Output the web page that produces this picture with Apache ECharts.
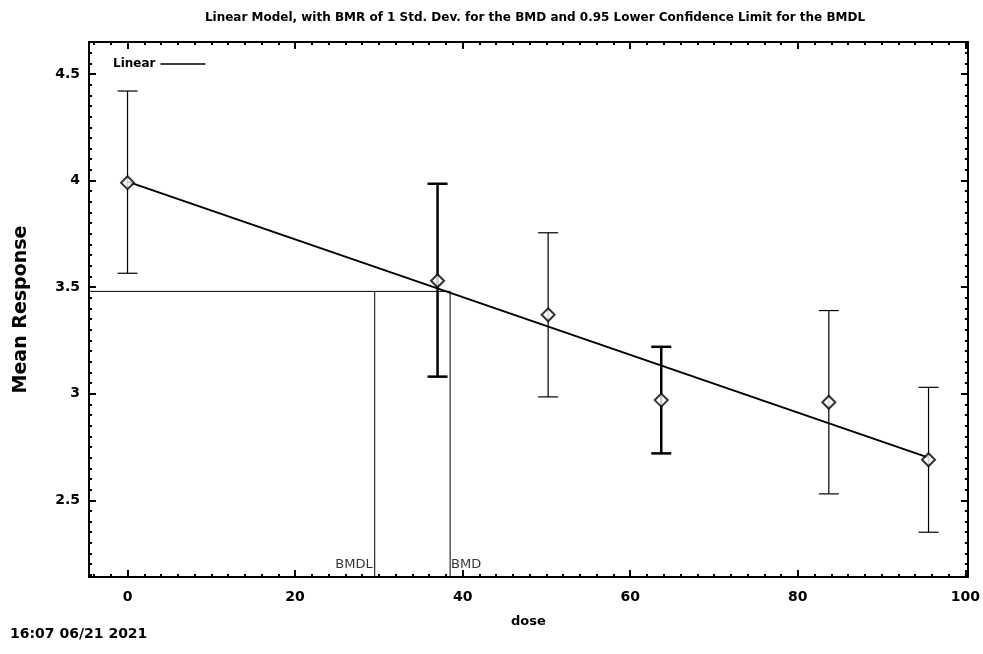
<!DOCTYPE html>
<html>
<head>
<meta charset="utf-8">
<script src="https://cdn.jsdelivr.net/npm/echarts@6/dist/echarts.min.js"></script>
<style>
  html, body { margin: 0; padding: 0; background: #fff; }
  #chart { width: 983px; height: 654px; }
</style>
</head>
<body>
<div id="chart"></div>
<script>
// dose groups and observed means with error bar limits
let doses = [0, 37, 50.2, 63.7, 83.7, 95.6];
let means = [3.99, 3.53, 3.37, 2.97, 2.96, 2.69];
let lower = [3.565, 3.08, 2.985, 2.72, 2.53, 2.35];
let upper = [4.42, 3.985, 3.755, 3.22, 3.39, 3.03];

// fitted linear model (end points)
let fitX = [0, 95.6];
let fitY = [3.995, 2.70];

// benchmark values
let bmdl = 29.5;
let bmd = 38.5;
let bmrResponse = 3.48;

// axis ranges
let xMin = -4.6, xMax = 100.3;
let yMin = 2.14, yMax = 4.65;

let font = 'DejaVu Sans';
let chartDom = document.getElementById('chart');
let myChart = echarts.init(chartDom);
let option;

let thickBars = [1, 3];

function axisBase(showLabel) {
  return {
    type: 'value',
    axisLine: { show: true, onZero: false, lineStyle: { color: '#000', width: 2 } },
    axisTick: { show: true, inside: true, length: 7, lineStyle: { color: '#000', width: 2 } },
    minorTick: { show: true, splitNumber: 10, length: 3, lineStyle: { color: '#000', width: 2 } },
    splitLine: { show: false },
    axisLabel: {
      show: showLabel,
      showMinLabel: false,
      showMaxLabel: false,
      color: '#000',
      fontFamily: font,
      fontWeight: 'bold',
      fontSize: 14
    }
  };
}

let xBottom = Object.assign(axisBase(true), {
  min: xMin, max: xMax, position: 'bottom',
  name: 'dose', nameLocation: 'middle', nameGap: 38,
  nameTextStyle: { color: '#000', fontFamily: font, fontWeight: 'bold', fontSize: 13 }
});
xBottom.axisLabel.margin = 13;
let xTop = Object.assign(axisBase(false), { min: xMin, max: xMax, position: 'top' });
let yLeft = Object.assign(axisBase(true), {
  min: yMin, max: yMax, position: 'left',
  name: 'Mean Response', nameLocation: 'middle', nameGap: 58,
  nameTextStyle: { color: '#000', fontFamily: font, fontWeight: 'bold', fontSize: 19 }
});
yLeft.axisLabel.margin = 9;
let yRight = Object.assign(axisBase(false), { min: yMin, max: yMax, position: 'right' });

let barData = doses.map((d, i) => [d, lower[i], upper[i], i]);

option = {
  animation: false,
  backgroundColor: '#fff',
  title: {
    text: 'Linear Model, with BMR of 1 Std. Dev. for the BMD and 0.95 Lower Confidence Limit for the BMDL',
    left: 530, top: 7, textAlign: 'center',
    textStyle: { color: '#000', fontFamily: font, fontWeight: 'bold', fontSize: 12 }
  },
  legend: {
    left: 108, top: 53,
    align: 'right',
    selectedMode: false,
    itemWidth: 45, itemHeight: 1.5,
    itemGap: 7,
    data: [{ name: 'Linear', icon: 'rect' }],
    textStyle: { color: '#000', fontFamily: font, fontWeight: 'bold', fontSize: 12 }
  },
  graphic: [{
    type: 'text', left: 10, top: 627,
    style: { text: '16:07 06/21 2021', fill: '#000', font: 'bold 14px "DejaVu Sans"' }
  }],
  grid: { left: 89, right: 15, top: 42, bottom: 77 },
  xAxis: [xBottom, xTop],
  yAxis: [yLeft, yRight],
  series: [
    {
      type: 'line', name: 'bmr',
      data: [[xMin, bmrResponse], [bmd, bmrResponse], [bmd, yMin]],
      symbol: 'none', lineStyle: { color: '#000', width: 1 }, z: 2
    },
    {
      type: 'line', name: 'bmdl',
      data: [[bmdl, yMin], [bmdl, bmrResponse]],
      symbol: 'none', lineStyle: { color: '#000', width: 1 }, z: 2
    },
    {
      type: 'custom', name: 'errorbars',
      data: barData,
      z: 3,
      renderItem: function (params, api) {
        let x = api.value(0);
        let lo = api.coord([x, api.value(1)]);
        let hi = api.coord([x, api.value(2)]);
        let w = thickBars.indexOf(api.value(3)) >= 0 ? 2.5 : 1.2;
        let half = 10;
        let style = { stroke: '#000', lineWidth: w };
        return {
          type: 'group',
          children: [
            { type: 'line', shape: { x1: hi[0], y1: hi[1], x2: lo[0], y2: lo[1] }, style: style },
            { type: 'line', shape: { x1: hi[0] - half, y1: hi[1], x2: hi[0] + half, y2: hi[1] }, style: style },
            { type: 'line', shape: { x1: lo[0] - half, y1: lo[1], x2: lo[0] + half, y2: lo[1] }, style: style }
          ]
        };
      }
    },
    {
      type: 'line', name: 'Linear',
      data: fitX.map((x, i) => [x, fitY[i]]),
      symbol: 'none', lineStyle: { color: '#000', width: 2 }, itemStyle: { color: '#000' }, z: 4
    },
    {
      type: 'scatter', name: 'means',
      data: doses.map((d, i) => [d, means[i]]),
      symbol: 'diamond', symbolSize: [13, 13],
      itemStyle: { color: '#fff', borderColor: '#000', borderWidth: 2 }, z: 5
    },
    {
      type: 'scatter', name: 'labels',
      data: [
        { value: [bmdl, yMin], label: { formatter: 'BMDL', position: 'left', distance: 2 } },
        { value: [bmd, yMin], label: { formatter: 'BMD', position: 'right', distance: 1 } }
      ],
      symbolSize: 0,
      label: { show: true, offset: [0, -12], color: '#000', fontFamily: font, fontSize: 13 },
      z: 5
    }
  ]
};

option && myChart.setOption(option);
</script>
</body>
</html>
